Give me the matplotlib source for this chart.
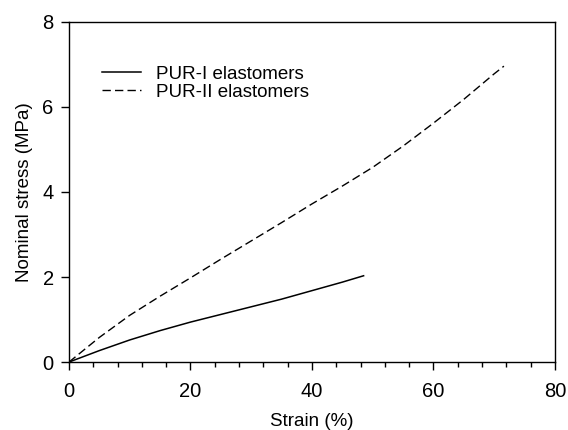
import matplotlib
matplotlib.use("Agg")
import matplotlib.pyplot as plt
from matplotlib.ticker import MultipleLocator

# stress-strain curves
strain_1 = [0, 5, 10, 15, 20, 25, 30, 35, 40, 45, 48.5]
stress_1 = [0, 0.27, 0.52, 0.74, 0.94, 1.12, 1.30, 1.48, 1.68, 1.88, 2.03]
strain_2 = [0, 5, 10, 15, 20, 25, 30, 35, 40, 45, 50, 55, 60, 65, 70, 71.6]
stress_2 = [0, 0.58, 1.10, 1.55, 1.98, 2.42, 2.85, 3.28, 3.72, 4.14, 4.58, 5.08, 5.62, 6.18, 6.78, 6.96]
labels = ["PUR-I elastomers", "PUR-II elastomers"]

plt.rcParams["font.family"] = ["Liberation Sans", "DejaVu Sans"]

fig = plt.figure(figsize=(5.68, 4.30), dpi=100)
ax = fig.add_axes([0.1215, 0.158, 0.8555, 0.791])

ax.plot(strain_1, stress_1, color="black", lw=1.1, label=labels[0])
ax.plot(strain_2, stress_2, color="black", lw=1.0, ls=(0, (6.0, 3.0)), label=labels[1])

ax.set_xlim(0, 80); ax.set_ylim(0, 8)
ax.xaxis.set_major_locator(MultipleLocator(20))
ax.xaxis.set_minor_locator(MultipleLocator(4))
ax.yaxis.set_major_locator(MultipleLocator(2))
ax.tick_params(which="major", direction="out", length=6, width=1, labelsize=14.5, pad=5)
ax.tick_params(axis="x", which="major", pad=8)
ax.tick_params(which="minor", direction="out", length=3.5, width=1)
for sp in ax.spines.values():
    sp.set_linewidth(1)

ax.set_xlabel("Strain (%)", fontsize=13.5, labelpad=9)
ax.set_ylabel("Nominal stress (MPa)", fontsize=13.5, labelpad=7)

ax.legend(loc="upper left", bbox_to_anchor=(0.068, 0.872), frameon=False, fontsize=13.5,
          handlelength=2.1, handletextpad=0.8, labelspacing=0.05, borderaxespad=0,
          borderpad=0)

fig.savefig("out.png", dpi=100)
